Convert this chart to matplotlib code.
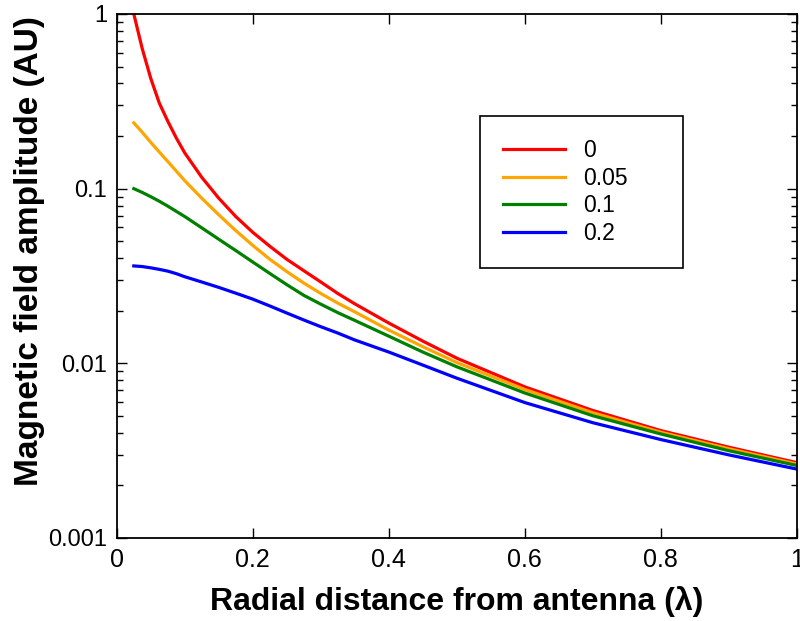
import matplotlib
matplotlib.use("Agg")
import matplotlib.pyplot as plt
import matplotlib.ticker as mticker

# radial distance (in wavelengths) and field amplitude per loss value
r = [0.025, 0.0375, 0.05, 0.0625, 0.075, 0.0875, 0.1, 0.125, 0.15, 0.175, 0.2,
     0.225, 0.25, 0.275, 0.3, 0.325, 0.35, 0.4, 0.45, 0.5, 0.6, 0.7, 0.8, 0.9, 1.0]
amp_0 = [1.0, 0.631, 0.427, 0.309, 0.243, 0.195, 0.160, 0.116, 0.0881, 0.0692,
         0.0562, 0.0468, 0.0394, 0.0339, 0.0292, 0.0251, 0.0219, 0.0170, 0.0134,
         0.0107, 0.00733, 0.00537, 0.00412, 0.00331, 0.0027]
amp_005 = [0.238, 0.210, 0.184, 0.162, 0.143, 0.126, 0.111, 0.0881, 0.0708,
           0.0575, 0.0473, 0.0394, 0.0335, 0.0288, 0.0251, 0.0221, 0.0197,
           0.0155, 0.01245, 0.0101, 0.00708, 0.00521, 0.00403, 0.00324, 0.00265]
amp_01 = [0.1, 0.0951, 0.0899, 0.0847, 0.0794, 0.0741, 0.0692, 0.0596, 0.0513,
          0.0442, 0.0380, 0.0327, 0.0282, 0.0245, 0.0218, 0.0195, 0.0176, 0.0143,
          0.0116, 0.00955, 0.00676, 0.00501, 0.00394, 0.00316, 0.0026]
amp_02 = [0.0361, 0.0358, 0.0352, 0.0345, 0.0337, 0.0326, 0.0313, 0.0292, 0.0272,
          0.0252, 0.0233, 0.0213, 0.0194, 0.0177, 0.0162, 0.0149, 0.0136, 0.0116,
          0.00977, 0.00822, 0.00596, 0.00457, 0.00366, 0.00299, 0.00248]
series = [("0", amp_0, "red"), ("0.05", amp_005, "orange"),
          ("0.1", amp_01, "green"), ("0.2", amp_02, "blue")]

x_ticks = [0, 0.2, 0.4, 0.6, 0.8, 1]
x_ticklabels = ["0", "0.2", "0.4", "0.6", "0.8", "1"]
y_ticks = [0.001, 0.01, 0.1, 1]
y_ticklabels = ["0.001", "0.01", "0.1", "1"]

plt.rcParams['font.family'] = ['Liberation Sans', 'DejaVu Sans']

fig = plt.figure(figsize=(8, 6.21), dpi=100)
ax = fig.add_axes([0.146, 0.1337, 0.85, 0.8438])

for label, amp, color in series:
    ax.plot(r, amp, color=color, lw=2.3, label=label)

ax.set_yscale("log")
ax.set_xlim(0, 1)
ax.set_ylim(0.001, 1)
ax.set_xticks(x_ticks)
ax.set_xticklabels(x_ticklabels, fontsize=18)
ax.yaxis.set_major_locator(mticker.FixedLocator(y_ticks))
ax.yaxis.set_major_formatter(mticker.FixedFormatter(y_ticklabels))
ax.yaxis.set_minor_locator(mticker.LogLocator(base=10, subs=range(2, 10)))
ax.yaxis.set_minor_formatter(mticker.NullFormatter())
ax.tick_params(axis='y', which='major', labelsize=17)
ax.tick_params(which='both', direction='in', top=True, right=True, width=1)
ax.tick_params(which='major', length=7, pad=7)
ax.tick_params(which='minor', length=4)
for s in ax.spines.values():
    s.set_linewidth(1.3)

ax.set_xlabel("Radial distance from antenna (λ)", fontsize=23, fontweight='bold',
              labelpad=10)
ax.set_ylabel("Magnetic field amplitude (AU)", fontsize=24, fontweight='bold')
ax.yaxis.set_label_coords(-0.106, 0.548)

leg = ax.legend(loc='upper left', bbox_to_anchor=(0.534, 0.515, 0.298, 0.29),
                mode='expand', fontsize=16.5, fancybox=False, borderpad=1.0,
                labelspacing=0.2, handlelength=2.7, handletextpad=0.8,
                borderaxespad=0, framealpha=1)
leg.get_frame().set_edgecolor('black')
leg.get_frame().set_linewidth(1.2)

fig.savefig("out.png", dpi=100)
